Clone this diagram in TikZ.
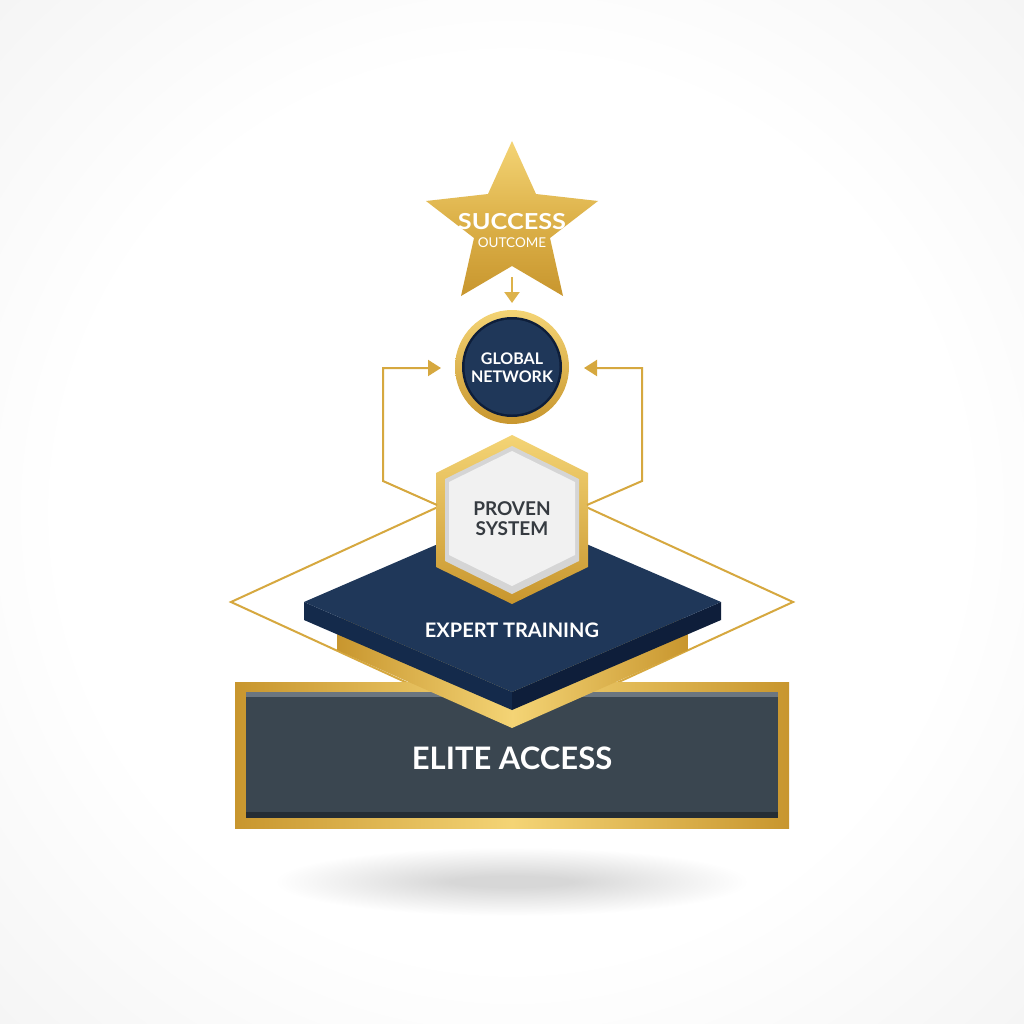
\documentclass[tikz,border=0pt]{standalone}
\usepackage{fontspec}
\setmainfont{Lato}
\usetikzlibrary{arrows.meta}
\definecolor{golddark}{HTML}{C8962E}
\definecolor{goldmid}{HTML}{DDB24A}
\definecolor{goldlight}{HTML}{F4D475}
\definecolor{goldline}{HTML}{D6A83F}
\definecolor{navy}{HTML}{1F3759}
\definecolor{navyinner}{HTML}{1B3154}
\definecolor{navyleft}{HTML}{142A4B}
\definecolor{navyright}{HTML}{0E1E3A}
\definecolor{slate}{HTML}{3A4650}
\definecolor{slatetop}{HTML}{6B7680}
\definecolor{slatebot}{HTML}{252D34}
\definecolor{textgrey}{HTML}{363B41}
\definecolor{hexrim}{HTML}{D5D5D5}
\definecolor{hexface}{HTML}{F1F1F1}
\definecolor{bgedge}{HTML}{EAEAEA}
\definecolor{bgcorner}{HTML}{DFDFDF}
\pgfdeclareradialshading{bgshade}{\pgfpoint{0bp}{0bp}}{color(0bp)=(white); color(22bp)=(white); color(50bp)=(bgedge); color(71bp)=(bgcorner)}
\begin{document}
\begin{tikzpicture}[x=1pt,y=-1pt,
  goldconn/.style={draw=goldline, line width=2pt},
  loopar/.style={goldconn, -{Triangle[length=13pt,width=16pt]}},
  downar/.style={draw=goldmid, line width=2.2pt, -{Triangle[length=11pt,width=15pt]}},
  lbl/.style={inner sep=0pt, text=white},
  goldh/.style={left color=golddark, right color=golddark, middle color=goldlight},
  goldv/.style={top color=goldlight, bottom color=golddark}]
\useasboundingbox (0,0) rectangle (1024,1024);
\shade[shading=bgshade] (0,0) rectangle (1024,1024);
% soft shadow under the base
\foreach \i in {0,...,39}
  \fill[black, opacity=0.005] (512,882) ellipse ({235pt-4.4pt*\i} and {34pt-0.72pt*\i});
% thin gold diamond
\draw[goldconn, line join=miter] (512,473) -- (793,602) -- (512,731) -- (231,602) -- cycle;
% elite access box
\shade[goldh] (235,682) rectangle (789,828);
\fill[slate] (246,692) rectangle (778,818);
\fill[slatetop] (246,692) rectangle (778,697);
\fill[slatebot] (246,812) rectangle (778,818);
\node[lbl, font=\bfseries\fontsize{31}{31}\selectfont] (elite) at (512,758) {ELITE ACCESS};
% gold block under the slab
\shade[goldh] (337,618) -- (337,650) -- (512,728) -- (688,650) -- (688,618) -- cycle;
% navy slab
\fill[navyleft] (304,602) -- (512,692) -- (512,710) -- (304,620) -- cycle;
\fill[navyright] (721,602) -- (512,692) -- (512,710) -- (721,620) -- cycle;
\fill[navy] (512,512) -- (721,602) -- (512,692) -- (304,602) -- cycle;
\node[lbl, font=\bfseries\fontsize{20}{20}\selectfont] (expert) at (512,630) {EXPERT TRAINING};
% hexagon
\shade[goldv] (512,435) -- (588,473) -- (588,567) -- (512,604) -- (436,567) -- (436,473) -- cycle;
\fill[hexrim] (512,446) -- (579,479) -- (579,561) -- (512,594) -- (445,561) -- (445,479) -- cycle;
\fill[hexface] (512,451) -- (575,482) -- (575,555) -- (512,586) -- (449,555) -- (449,482) -- cycle;
\node[lbl, text=textgrey, font=\bfseries\fontsize{19}{19}\selectfont] (proven) at (512,509) {PROVEN};
\node[lbl, text=textgrey, font=\bfseries\fontsize{19}{19}\selectfont] (system) at (512,529) {SYSTEM};
% loop connectors
\coordinate (hexL) at (437,505);
\coordinate (hexR) at (587,505);
\coordinate (gnL) at (441,368);
\coordinate (gnR) at (584,368);
\draw[loopar] (hexL) -- (383,481) -- (383,368) -- (gnL);
\draw[loopar] (hexR) -- (642,481) -- (642,368) -- (gnR);
% global network circle
\shade[goldv] (512,367) circle (57pt);
\fill[navyright] (512,367) circle (50pt);
\fill[navy] (512,367) circle (47.5pt);
\node[lbl, font=\bfseries\fontsize{16}{16}\selectfont] (global) at (512,359) {GLOBAL};
\node[lbl, font=\bfseries\fontsize{16}{16}\selectfont] (network) at (512,377) {NETWORK};
% star
\shade[top color=goldlight, bottom color=golddark, middle color=goldmid]
  (512,141) -- (536,194) -- (598,201) -- (550,238) -- (563,296) -- (512,266)
  -- (461,296) -- (474,238) -- (426,201) -- (488,194) -- cycle;
\node[lbl, font=\bfseries\fontsize{22}{22}\selectfont] (success) at (512,222) {\scalebox{1.15}[1]{SUCCESS}};
\node[lbl, font=\fontsize{13.5}{13.5}\selectfont] (outcome) at (512,243) {OUTCOME};
\coordinate (starB) at (512,277);
\coordinate (gnT) at (512,303);
\draw[downar] (starB) -- (gnT);
\end{tikzpicture}
\end{document}
